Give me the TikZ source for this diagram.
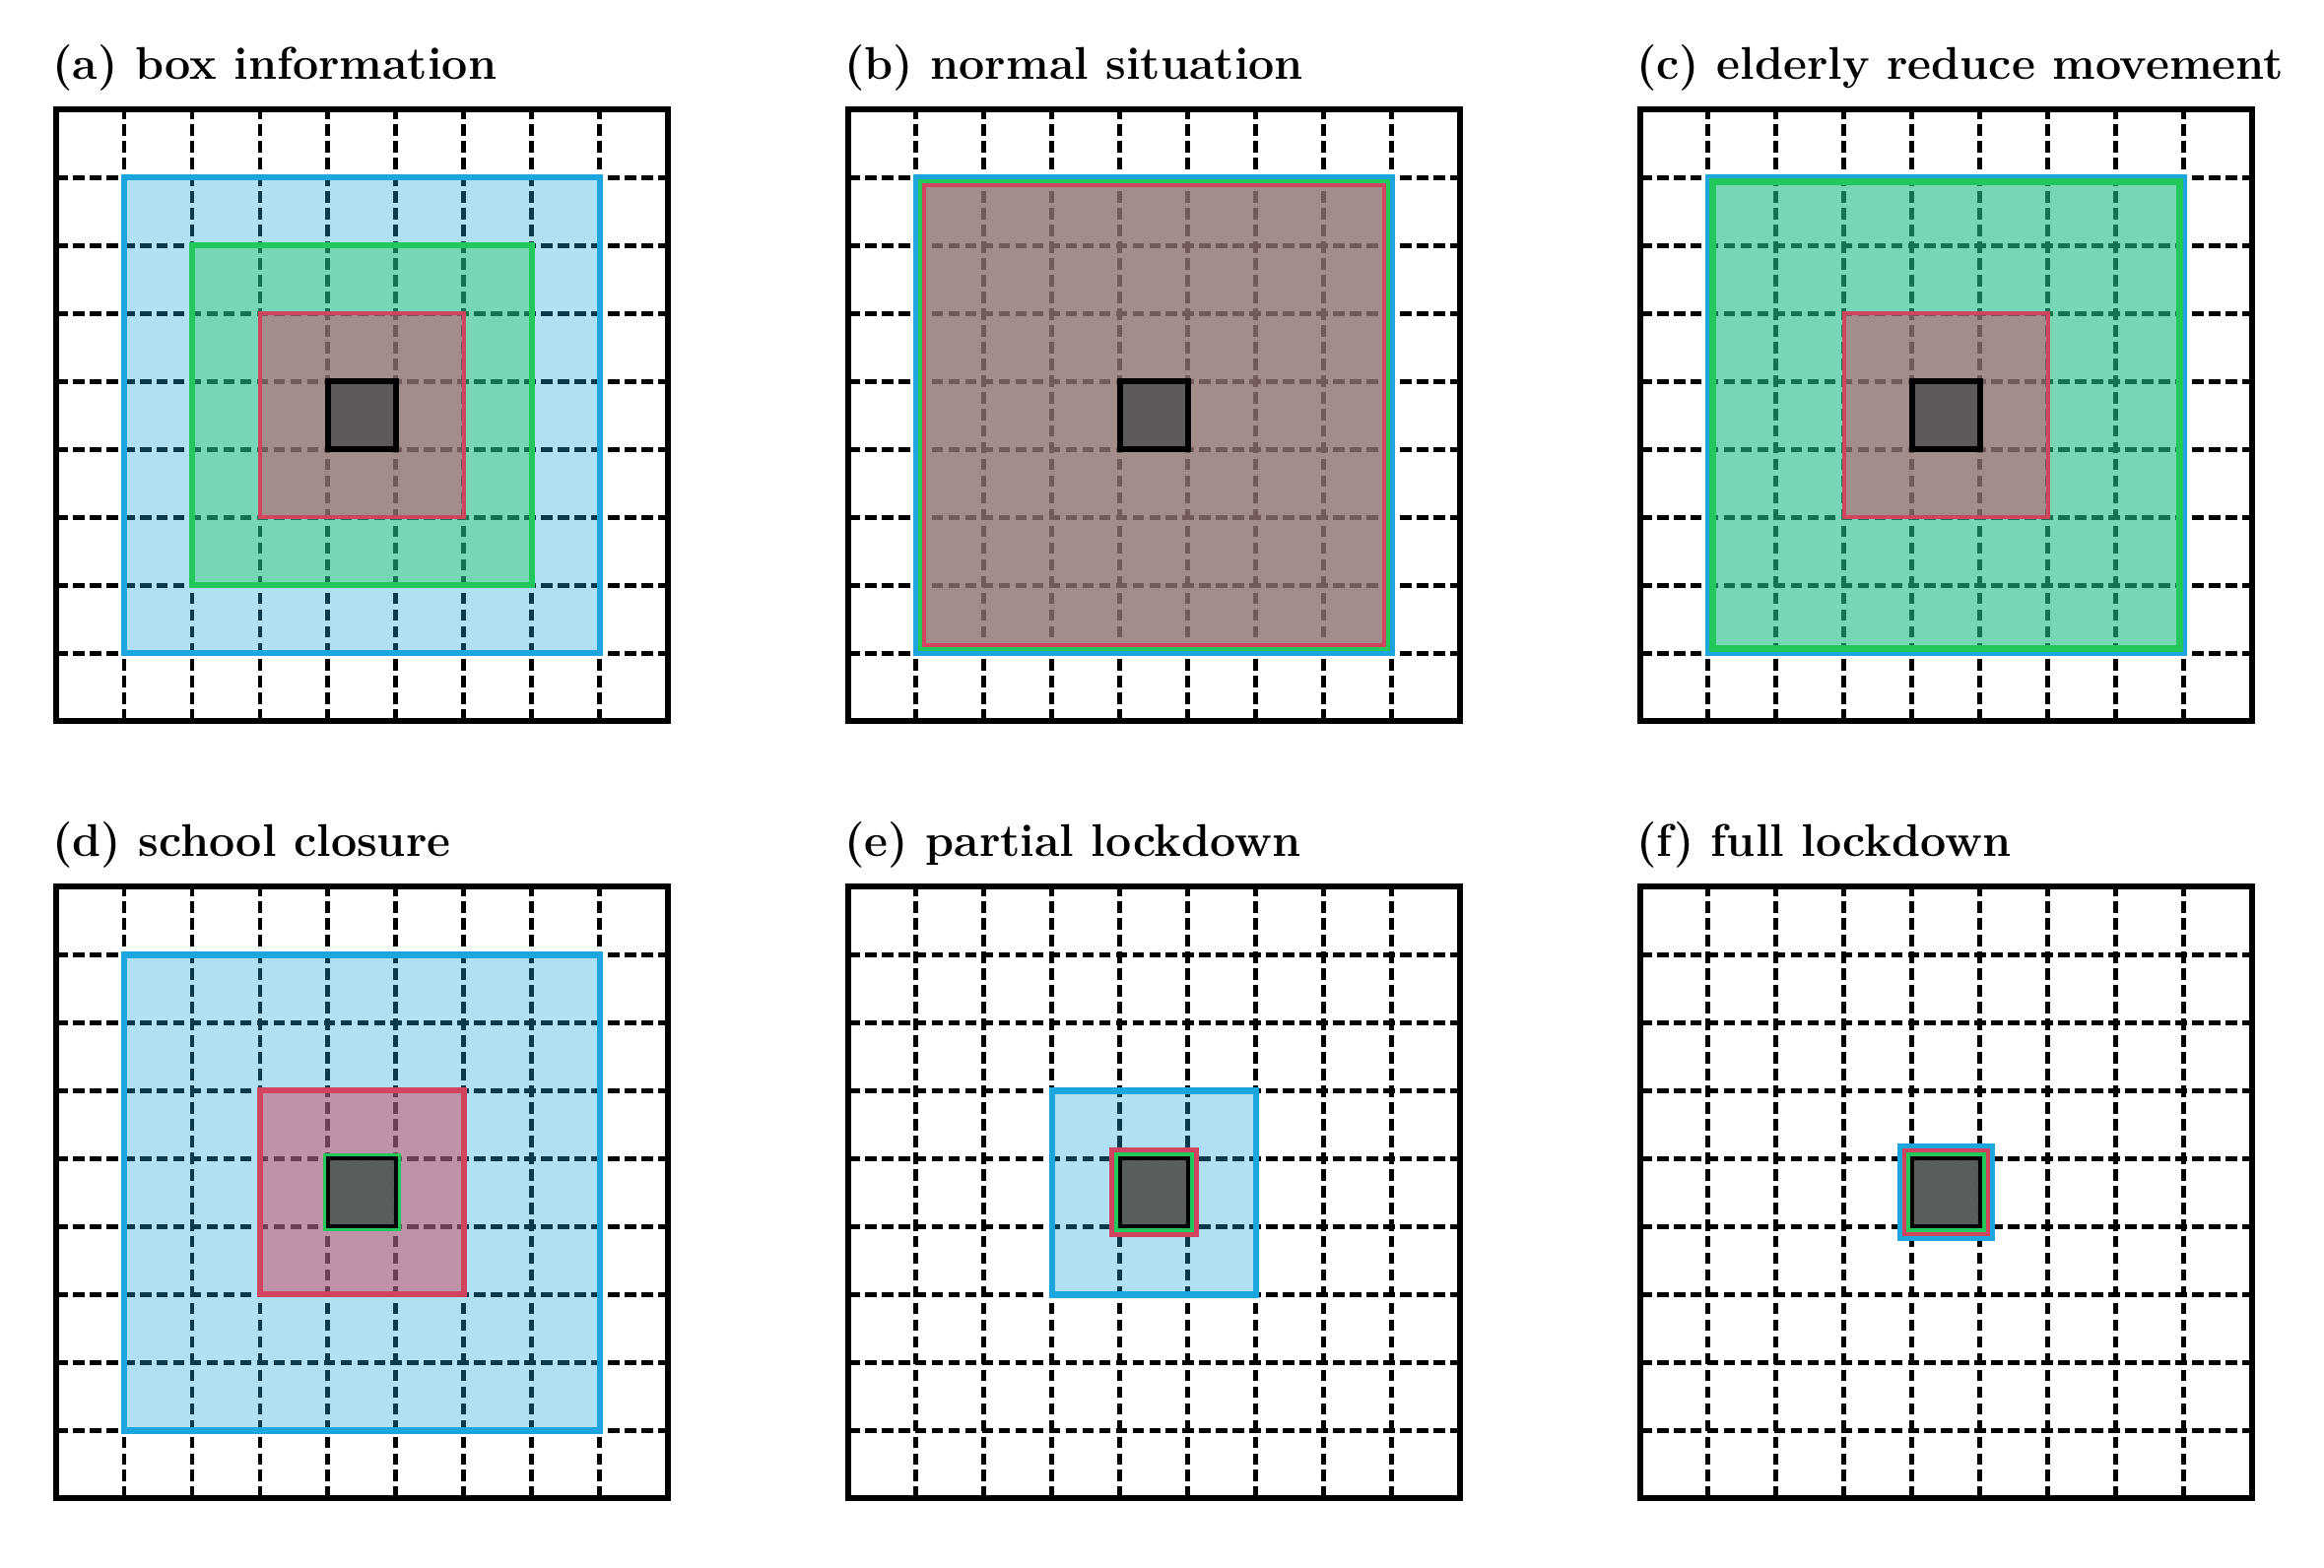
\documentclass[tikz,border=0pt]{standalone}
\usetikzlibrary{calc}
\definecolor{boxblue}{RGB}{29,166,222}
\definecolor{boxgreen}{RGB}{34,200,90}
\definecolor{boxred}{RGB}{208,68,96}
\definecolor{boxcore}{RGB}{80,80,80}

\begin{document}
\begin{tikzpicture}[
GridLines/.style={draw=black,line width=2.05pt,dash pattern=on 4.8pt off 2.2pt},
OuterFrame/.style={draw=black,line width=2.5pt},
BlueBox/.style={draw=boxblue,fill=boxblue,fill opacity=0.35,line width=2.7pt},
GreenBox/.style={draw=boxgreen,fill=boxgreen,fill opacity=0.4,line width=2.3pt},
RedBox/.style={draw=boxred,fill=boxred,fill opacity=0.5,line width=1.5pt},
CoreBox/.style={draw=black,fill=boxcore,fill opacity=0.82,line width=2.6pt},
PanelTitle/.style={anchor=base west,inner sep=0pt,font=\fontsize{19.2}{23}\selectfont\bfseries}
]
\useasboundingbox (0,0) rectangle (34.19,23.06);

\coordinate (PA) at (0.826,12.45);
\coordinate (PB) at (12.478,12.45);
\coordinate (PC) at (24.13,12.45);
\coordinate (PD) at (0.826,1.014);
\coordinate (PE) at (12.478,1.014);
\coordinate (PF) at (24.13,1.014);

% grids, frames and titles
\foreach \p/\lab/\txt in {PA/a/{(a) box information},PB/b/{(b) normal situation},
  PC/c/{(c) elderly reduce movement},PD/d/{(d) school closure},
  PE/e/{(e) partial lockdown},PF/f/{(f) full lockdown}}{
  \begin{scope}[shift={(\p)}]
    \foreach \k in {1,...,8}{
      \draw[GridLines] (0,\k) -- (9,\k);
      \draw[GridLines] (\k,0) -- (\k,9);
    }
    \draw[OuterFrame] (0,0) rectangle (9,9);
    \node[PanelTitle] (title-\lab) at (-0.06,9.45) {\txt};
  \end{scope}
}

% (a) box information
\begin{scope}[shift={(PA)}]
\draw[BlueBox] (1,1) rectangle (8,8);
\draw[GreenBox] (2,2) rectangle (7,7);
\draw[RedBox] (3,3) rectangle (6,6);
\draw[CoreBox] (4,4) rectangle (5,5);
\end{scope}

% (b) normal situation
\begin{scope}[shift={(PB)}]
\draw[BlueBox,line width=2.2pt] (1,1) rectangle (8,8);
\draw[GreenBox,line width=1.6pt] (1.055,1.055) rectangle (7.945,7.945);
\draw[RedBox,line width=1.6pt] (1.12,1.12) rectangle (7.88,7.88);
\draw[CoreBox] (4,4) rectangle (5,5);
\end{scope}

% (c) elderly reduce movement
\begin{scope}[shift={(PC)}]
\draw[BlueBox] (1,1) rectangle (8,8);
\draw[GreenBox,line width=3pt] (1.065,1.065) rectangle (7.935,7.935);
\draw[RedBox] (3,3) rectangle (6,6);
\draw[CoreBox] (4,4) rectangle (5,5);
\end{scope}

% (d) school closure
\begin{scope}[shift={(PD)}]
\draw[BlueBox,line width=2.8pt] (1,1) rectangle (8,8);
\draw[RedBox,line width=2.6pt] (3,3) rectangle (6,6);
\draw[GreenBox,line width=2.4pt] (3.97,3.97) rectangle (5.03,5.03);
\draw[CoreBox,line width=1.6pt] (4,4) rectangle (5,5);
\end{scope}

% (e) partial lockdown
\begin{scope}[shift={(PE)}]
\draw[BlueBox,line width=2.8pt] (3,3) rectangle (6,6);
\draw[RedBox,line width=2.3pt] (3.88,3.88) rectangle (5.12,5.12);
\draw[GreenBox,line width=2.3pt] (3.955,3.955) rectangle (5.045,5.045);
\draw[CoreBox,line width=1.6pt] (4,4) rectangle (5,5);
\end{scope}

% (f) full lockdown
\begin{scope}[shift={(PF)}]
\draw[BlueBox,line width=2.3pt] (3.82,3.82) rectangle (5.18,5.18);
\draw[RedBox,line width=2.3pt] (3.89,3.89) rectangle (5.11,5.11);
\draw[GreenBox,line width=2.1pt] (3.955,3.955) rectangle (5.045,5.045);
\draw[CoreBox,line width=1.6pt] (4,4) rectangle (5,5);
\end{scope}

\end{tikzpicture}
\end{document}
